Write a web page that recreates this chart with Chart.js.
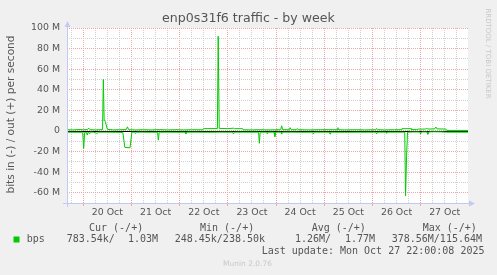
<!DOCTYPE html>
<html>
<head>
<meta charset="utf-8">
<title>enp0s31f6 traffic - by week</title>
<script src="https://cdn.jsdelivr.net/npm/chart.js@4/dist/chart.umd.min.js"></script>
<style>
  html, body { margin: 0; padding: 0; background: #f0f0f0; }
  canvas { display: block; }
</style>
</head>
<body>
<canvas id="chart" width="497" height="275"></canvas>
<script>
// ─── Data (hours since 20 Oct 00:00, values in Mbit/s) ─────────────────
const outHours = [-8.1, -5, -2, 0, 2, 2.8, 3.4, 6, 9.6, 10.0, 10.4, 11.0, 12.0, 15, 18, 21.4, 22.0, 22.6,
    26, 30, 34, 38, 42, 46, 50, 54, 59.6, 59.9, 66.8, 67.2, 67.7, 72, 74.7, 75.2, 79.4, 79.7,
    84, 88, 92, 98.3, 98.8, 99.3, 102.6, 103.0, 103.5, 106.2, 106.6, 107.0, 112, 118, 126.4, 126.8, 127.2,
    130, 136, 140, 145.7, 146.1, 146.5, 150, 155, 158.4, 158.7, 163.3, 163.6, 166, 167, 170.5, 171.0, 171.5,
    175.0, 175.6, 176.2, 180.6, 181.0, 191.6];
const outMbps = [1.2, 1.0, 1.4, 1.1, 1.3, 2.6, 1.2, 1.0, 1.3, 50, 10.5, 9, 1.5, 1.0, 1.2, 1.3, 4, 1.2,
    1.0, 1.2, 1.0, 1.3, 1.0, 1.2, 1.0, 1.2, 1.1, 2.2, 2.3, 92, 2.5, 2.2, 2.7, 2.2, 2.2, 1.1,
    1.0, 1.2, 1.0, 1.2, 5, 1.2, 1.2, 3.2, 1.2, 1.2, 2.3, 1.2, 1.0, 1.2, 1.2, 3.2, 1.2,
    1.0, 1.2, 1.0, 1.2, 2.4, 1.2, 1.0, 1.2, 1.2, 2.2, 2.2, 1.2, 1.3, 1.8, 1.8, 2.8, 1.8,
    2.0, 3.8, 2.0, 1.8, 0.5, 0.5];

const inHours = [-8.1, -1.0, -0.3, 0.2, 0.7, 1.6, 2.0, 2.4, 2.7, 3.0, 3.3, 5, 7, 7.4, 12, 16, 19.7, 20.7, 23.3, 24.2,
    25.6, 26.0, 26.4, 30, 34, 37.0, 37.4, 37.8, 42, 46, 50.7, 51.1, 51.5, 56, 62, 68, 74.4, 74.8, 75.2, 80,
    87.3, 87.7, 88.1, 91.4, 91.7, 92.0, 95.0, 95.4, 95.8, 98.5, 98.8, 99.1, 104, 110, 114.2, 114.6, 115.0,
    120, 122.6, 122.9, 123.2, 130, 138, 145.7, 146.1, 146.5, 150.8, 151.1, 151.4, 156, 160.1, 160.5, 161.0, 161.5,
    164, 167.6, 168.0, 168.4, 171.2, 171.6, 172.0, 174, 178, 181, 191.6];
const inMbps = [-1.2, -1.3, -1.2, -17, -1.5, -1.2, -4, -1.2, -1.2, -2.5, -1.2, -1.2, -2.4, -1.2, -1.2, -1.3, -1.4, -16, -16.3, -1.2,
    -1.2, -2.5, -1.2, -1.2, -1.3, -1.2, -9, -1.2, -1.2, -1.3, -1.2, -3, -1.2, -1.2, -1.3, -1.2, -1.2, -3, -1.2, -1.2,
    -1.2, -12, -1.2, -1.2, -3, -1.2, -1.2, -5.5, -1.2, -1.2, -3, -1.2, -1.2, -1.3, -1.2, -3, -1.2,
    -1.2, -1.2, -3, -1.2, -1.3, -1.2, -1.2, -3, -1.2, -1.2, -2.2, -1.2, -1.2, -1.2, -63, -25, -1.2,
    -1.0, -1.0, -3, -1.0, -1.0, -3.2, -1.0, -0.8, -0.9, -1.2, -1.2];

// ─── Axes / labels ────────────────────────────────────────────────────
const dayLabels = ['20 Oct', '21 Oct', '22 Oct', '23 Oct', '24 Oct', '25 Oct', '26 Oct', '27 Oct'];
const xTickHours = [];
for (let h = -6; h <= 186; h += 6) xTickHours.push(h);
const yTicks = [-70, -60, -50, -40, -30, -20, -10, 0, 10, 20, 30, 40, 50, 60, 70, 80, 90, 100];

const legendHeaders = ['Cur (-/+)', 'Min (-/+)', 'Avg (-/+)', 'Max (-/+)'];
const legendValues = ['783.54k/', '1.03M', '248.45k/238.50k', '1.26M/', '1.77M', '378.56M/115.64M'];
const lastUpdate = 'Last update: Mon Oct 27 22:00:08 2025';

const GREEN = '#00cc00';
const TEXT = '#555555';
const AXIS_BLUE = '#c4c8f4';
const GRID_MAJOR = 'rgb(240,165,165)';
const GRID_MINOR = 'rgb(208,208,208)';

function toPoints(hours, values) {
    return hours.map((h, i) => ({ x: h, y: values[i] }));
}

// ─── Munin-style decorations ──────────────────────────────────────────
const muninDecor = {
    id: 'muninDecor',
    beforeDraw(chart) {
        const { ctx, chartArea: a } = chart;
        ctx.save();
        ctx.fillStyle = '#f0f0f0';
        ctx.fillRect(0, 0, chart.width, chart.height);
        ctx.fillStyle = '#ffffff';
        ctx.fillRect(a.left, a.top, a.right - a.left, a.bottom - a.top);
        ctx.restore();
    },
    beforeDatasetsDraw(chart) {
        const { ctx, chartArea: a } = chart;
        const y0 = Math.round(chart.scales.y.getPixelForValue(0)) + 0.5;
        ctx.save();
        ctx.strokeStyle = '#000000';
        ctx.lineWidth = 1;
        ctx.beginPath();
        ctx.moveTo(a.left, y0);
        ctx.lineTo(a.right, y0);
        ctx.stroke();
        ctx.restore();
    },
    afterDraw(chart) {
        const { ctx, chartArea: a } = chart;
        ctx.save();

        // axis lines with arrows
        ctx.strokeStyle = AXIS_BLUE;
        ctx.fillStyle = AXIS_BLUE;
        ctx.lineWidth = 1;
        ctx.beginPath();
        ctx.moveTo(a.left + 0.5, a.bottom + 4);
        ctx.lineTo(a.left + 0.5, a.top - 2);
        ctx.moveTo(a.left - 4, a.bottom + 0.5);
        ctx.lineTo(a.right + 2, a.bottom + 0.5);
        ctx.stroke();
        ctx.beginPath();
        ctx.moveTo(a.left - 2.5, a.top - 1);
        ctx.lineTo(a.left + 3.5, a.top - 1);
        ctx.lineTo(a.left + 0.5, a.top - 7);
        ctx.closePath();
        ctx.fill();
        ctx.beginPath();
        ctx.moveTo(a.right + 1, a.bottom - 2.5);
        ctx.lineTo(a.right + 1, a.bottom + 3.5);
        ctx.lineTo(a.right + 7, a.bottom + 0.5);
        ctx.closePath();
        ctx.fill();

        // title
        ctx.fillStyle = TEXT;
        ctx.textBaseline = 'middle';
        ctx.textAlign = 'center';
        ctx.font = '12.6px "DejaVu Sans"';
        ctx.fillText('enp0s31f6 traffic - by week', 248.5, 19);

        // vertical axis title
        ctx.save();
        ctx.translate(11, 114.5);
        ctx.rotate(-Math.PI / 2);
        ctx.font = '10.6px "DejaVu Sans"';
        ctx.fillText('bits in (-) / out (+) per second', 0, 0);
        ctx.restore();

        // rrdtool watermark
        ctx.save();
        ctx.translate(487.5, 53.5);
        ctx.rotate(Math.PI / 2);
        ctx.fillStyle = '#c8c8c8';
        ctx.font = '7px "DejaVu Sans"';
        ctx.fillText('RRDTOOL / TOBI OETIKER', 0, 0);
        ctx.restore();

        // legend
        ctx.textAlign = 'left';
        ctx.fillStyle = TEXT;
        ctx.font = '10px "DejaVu Sans Mono"';
        const headerX = [89, 200, 311.7, 422.7];
        legendHeaders.forEach((t, i) => ctx.fillText(t, headerX[i], 228));

        ctx.fillStyle = GREEN;
        ctx.fillRect(13.5, 236.5, 6, 6);
        ctx.fillStyle = TEXT;
        ctx.fillText('bps', 26.7, 239.5);
        const valueX = [66.7, 128, 174.7, 295, 345, 391.7];
        legendValues.forEach((t, i) => ctx.fillText(t, valueX[i], 239.5));

        ctx.fillText(lastUpdate, 261.7, 251);

        ctx.fillStyle = '#c8c8c8';
        ctx.font = '7.5px "DejaVu Sans"';
        ctx.fillText('Munin 2.0.76', 223, 264.5);

        ctx.restore();
    },
};

// ─── Chart ────────────────────────────────────────────────────────────
function init() {
    const tickFont = { family: 'DejaVu Sans', size: 9.4 };

    new Chart(document.getElementById('chart'), {
        type: 'line',
        data: {
            datasets: [
                { label: 'in', data: toPoints(inHours, inMbps), borderColor: GREEN, borderWidth: 1, pointRadius: 0, tension: 0, fill: false },
                { label: 'out', data: toPoints(outHours, outMbps), borderColor: GREEN, borderWidth: 1, pointRadius: 0, tension: 0, fill: false },
            ],
        },
        options: {
            responsive: false,
            animation: false,
            devicePixelRatio: 1,
            layout: { padding: { left: 0, top: 28, right: 29, bottom: 0 } },
            plugins: {
                legend: { display: false },
                tooltip: { enabled: false },
            },
            scales: {
                x: {
                    type: 'linear',
                    min: -8.1,
                    max: 191.6,
                    afterBuildTicks: (scale) => { scale.ticks = xTickHours.map(v => ({ value: v })); },
                    afterFit: (scale) => { scale.height = 72; },
                    grid: {
                        color: (c) => (c.tick && c.tick.value % 24 === 0 ? GRID_MAJOR : GRID_MINOR),
                        tickColor: (c) => (c.tick && c.tick.value % 24 === 0 ? GRID_MAJOR : 'rgba(0,0,0,0)'),
                        tickLength: 3,
                        lineWidth: 1,
                    },
                    border: { display: false, dash: [1, 1] },
                    ticks: {
                        autoSkip: false,
                        maxRotation: 0,
                        padding: 1,
                        color: TEXT,
                        font: tickFont,
                        callback: (v) => {
                            if (((v % 24) + 24) % 24 !== 12) return '';
                            return dayLabels[(v - 12) / 24] || '';
                        },
                    },
                },
                y: {
                    type: 'linear',
                    min: -70,
                    max: 100,
                    afterBuildTicks: (scale) => { scale.ticks = yTicks.map(v => ({ value: v })); },
                    afterFit: (scale) => { scale.width = 67; },
                    grid: {
                        color: (c) => (c.tick && c.tick.value % 20 === 0 ? GRID_MAJOR : GRID_MINOR),
                        drawTicks: false,
                        lineWidth: 1,
                    },
                    border: { display: false, dash: [1, 1] },
                    ticks: {
                        autoSkip: false,
                        padding: 7,
                        color: TEXT,
                        font: tickFont,
                        callback: (v) => {
                            if (v % 20 !== 0) return '';
                            return v === 0 ? '0' : `${v} M`;
                        },
                    },
                },
            },
        },
        plugins: [muninDecor],
    });
}

init();
</script>
</body>
</html>
